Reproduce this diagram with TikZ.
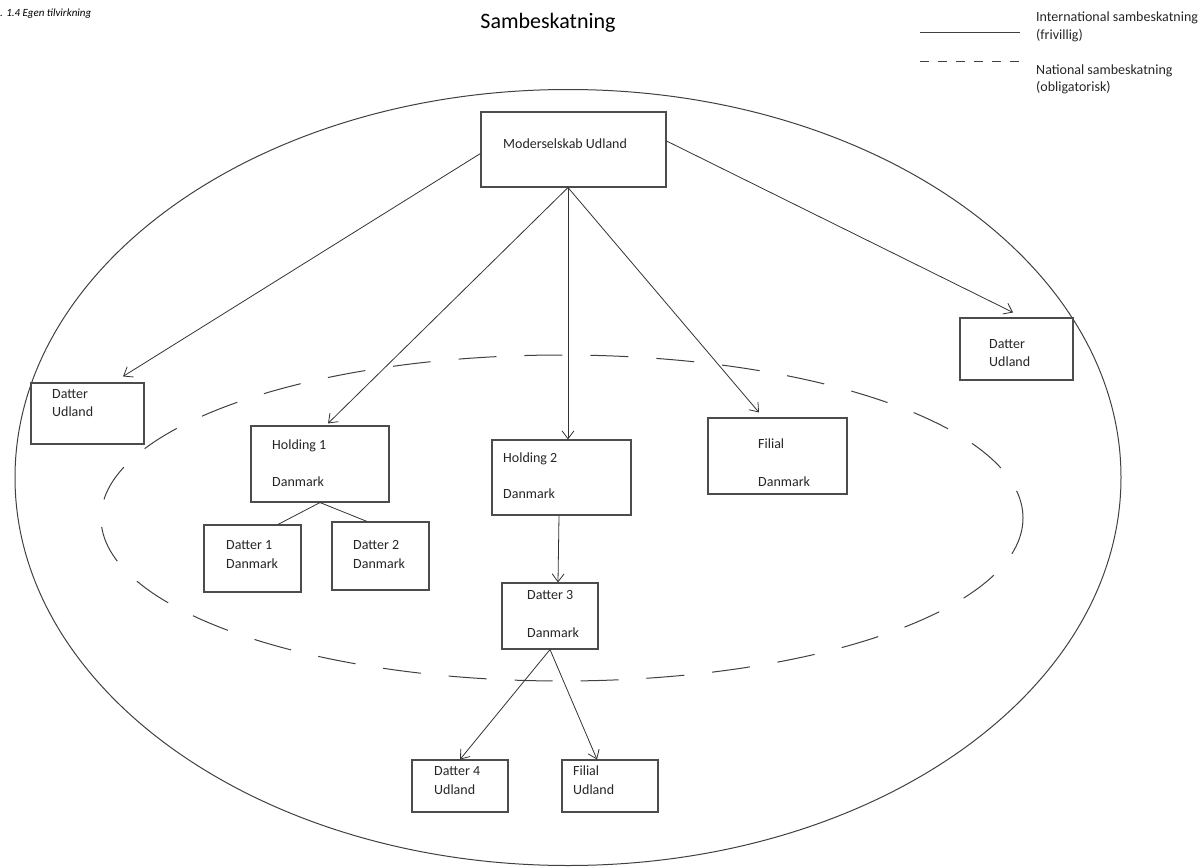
\documentclass[tikz,border=0pt]{standalone}
\usepackage{fontspec}
\setmainfont{Carlito}
\usetikzlibrary{arrows.meta}
\begin{document}
\begin{tikzpicture}[x=1pt, y=-1pt,
  box/.style={draw=black!70, line width=1.1pt, fill=white, inner sep=0pt},
  txt/.style={anchor=base west, inner sep=0pt, font=\fontsize{14}{16}\selectfont, text=black!85},
  link/.style={draw=black!80, line width=0.8pt},
  arr/.style={link, -{Straight Barb[length=8pt,width=12pt]}},
  ring/.style={draw=black!75, line width=1pt},
  natring/.style={ring, dash pattern=on 38pt off 28pt}]

% canvas
\useasboundingbox (0,0) rectangle (1203,867);

% caption, title
\node[anchor=base west, inner sep=0pt, font=\fontsize{11}{13}\selectfont\itshape] (cap) at (0,17) {. 1.4 Egen tilvirkning};
\node[anchor=base, inner sep=0pt, font=\fontsize{22}{26}\selectfont] (title) at (548,29) {Sambeskatning};

% legend
\coordinate (l1a) at (920,33);  \coordinate (l1b) at (1020,33);
\coordinate (l2a) at (920,62);  \coordinate (l2b) at (1020,62);
\draw[ring] (l1a) -- (l1b);
\draw[ring, dash pattern=on 9pt off 9pt] (l2a) -- (l2b);
\node[txt] (leg1) at (1036,22) {International sambeskatning};
\node[txt] (leg1b) at (1036,40) {(frivillig)};
\node[txt] (leg2) at (1036,75) {National sambeskatning};
\node[txt] (leg2b) at (1036,92) {(obligatorisk)};

% international and national groups
\begin{scope}
\clip (0,0) rectangle (1203,867);
\draw[ring] (568,477.5) ellipse [x radius=553, y radius=388];
\end{scope}
\draw[natring] (562,518) ellipse [x radius=461, y radius=163];

% companies
\node[box, minimum width=185pt, minimum height=75pt] (moder) at (573.5,149.5) {};
\node[box, minimum width=113pt, minimum height=61pt] (ldat) at (87.5,413.5) {};
\node[box, minimum width=113pt, minimum height=62pt] (rdat) at (1016.5,349) {};
\node[box, minimum width=138pt, minimum height=76pt] (hold1) at (320,464) {};
\node[box, minimum width=139pt, minimum height=75pt] (hold2) at (561.5,477.5) {};
\node[box, minimum width=139pt, minimum height=76pt] (filial) at (777.5,456) {};
\node[box, minimum width=97pt, minimum height=67pt] (dat1) at (252.5,558.5) {};
\node[box, minimum width=97pt, minimum height=68pt] (dat2) at (380.5,556) {};
\node[box, minimum width=96pt, minimum height=66pt] (dat3) at (550,616) {};
\node[box, minimum width=96pt, minimum height=52pt] (dat4) at (460,786) {};
\node[box, minimum width=96pt, minimum height=52pt] (filu) at (610,786) {};

% labels
\node[txt] (tmoder) at (503,148) {Moderselskab Udland};
\node[txt] (tldat1) at (52,398) {Datter};
\node[txt] (tldat2) at (52,416) {Udland};
\node[txt] (trdat1) at (989,348) {Datter};
\node[txt] (trdat2) at (989,366) {Udland};
\node[txt] (thold1a) at (272,449) {Holding 1};
\node[txt] (thold1b) at (272,486) {Danmark};
\node[txt] (thold2a) at (503,462) {Holding 2};
\node[txt] (thold2b) at (503,498) {Danmark};
\node[txt] (tfila) at (758,448) {Filial};
\node[txt] (tfilb) at (758,486) {Danmark};
\node[txt] (tdat1a) at (226,549) {Datter 1};
\node[txt] (tdat1b) at (226,568) {Danmark};
\node[txt] (tdat2a) at (353,549) {Datter 2};
\node[txt] (tdat2b) at (353,568) {Danmark};
\node[txt] (tdat3a) at (527,599) {Datter 3};
\node[txt] (tdat3b) at (527,637) {Danmark};
\node[txt] (tdat4a) at (434,775) {Datter 4};
\node[txt] (tdat4b) at (434,794) {Udland};
\node[txt] (tfilua) at (573,775) {Filial};
\node[txt] (tfilub) at (573,794) {Udland};

% ownership links
\draw[arr] ([yshift=-4pt]moder.west) -- ([xshift=35.5pt,yshift=6pt]ldat.north);
\draw[arr] ([xshift=-5.5pt]moder.south) -- ([xshift=8pt,yshift=2pt]hold1.north);
\draw[arr] ([xshift=-5.5pt]moder.south) -- ([xshift=6.5pt]hold2.north);
\draw[arr] ([xshift=-5.5pt]moder.south) -- ([xshift=-18.5pt,yshift=5pt]filial.north);
\draw[arr] ([yshift=8.5pt]moder.east) -- ([xshift=-3.5pt,yshift=5pt]rdat.north);
\draw[link] (hold1.south) -- ([xshift=25.5pt]dat1.north);
\draw[link] (hold1.south) -- ([xshift=-13.5pt]dat2.north);
\draw[arr] ([xshift=-2.5pt]hold2.south) -- ([xshift=8pt]dat3.north);
\draw[arr] (dat3.south) -- (dat4.north);
\draw[arr] (dat3.south) -- ([xshift=-13pt]filu.north);
\end{tikzpicture}
\end{document}
